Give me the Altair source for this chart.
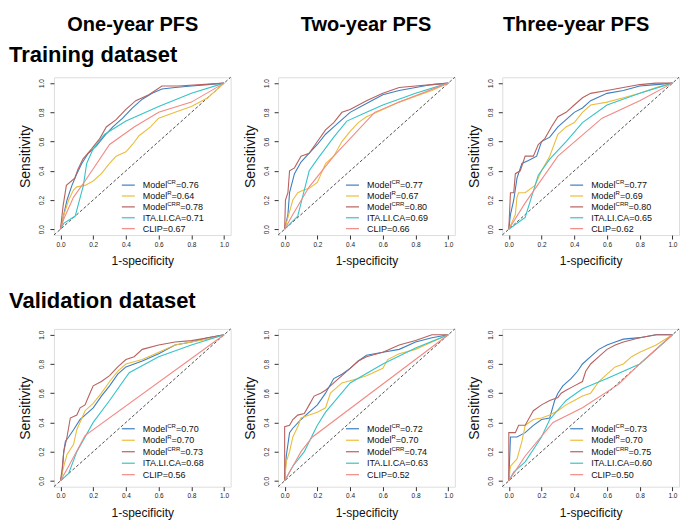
import altair as alt
import pandas as pd

MODELS = ["ModelCR", "ModelR", "ModelCRR", "ITA.LI.CA", "CLIP"]
COLORS = ["#3d7fc0", "#ebbd3e", "#b8625e", "#36c3c9", "#f28a84"]
MAIN = ["Model", "Model", "Model", "ITA.LI.CA", "CLIP"]
SUP = ["CR", "R", "CRR", "", ""]

COL_TITLES = ["One-year PFS", "Two-year PFS", "Three-year PFS"]
ROW_TITLES = ["Training dataset", "Validation dataset"]
TICKS = [0.0, 0.2, 0.4, 0.6, 0.8, 1.0]

AUC_T1 = [0.76, 0.64, 0.78, 0.71, 0.67]
AUC_T2 = [0.77, 0.67, 0.80, 0.69, 0.66]
AUC_T3 = [0.77, 0.69, 0.80, 0.65, 0.62]
AUC_V1 = [0.70, 0.70, 0.73, 0.68, 0.56]
AUC_V2 = [0.72, 0.70, 0.74, 0.63, 0.52]
AUC_V3 = [0.73, 0.70, 0.75, 0.60, 0.50]

# ---- Training, one-year ----
T1_CR = [(0, 0), (0.02, 0.10), (0.04, 0.20), (0.07, 0.30), (0.10, 0.38), (0.13, 0.45), (0.17, 0.52),
         (0.22, 0.57), (0.27, 0.64), (0.32, 0.70), (0.38, 0.76), (0.44, 0.83), (0.50, 0.89), (0.56, 0.93),
         (0.62, 0.96), (0.70, 0.97), (0.80, 0.98), (0.90, 0.99), (1, 1)]
T1_R = [(0, 0), (0.01, 0.06), (0.05, 0.20), (0.08, 0.27), (0.10, 0.29), (0.15, 0.30), (0.20, 0.33),
        (0.25, 0.38), (0.30, 0.45), (0.34, 0.50), (0.40, 0.53), (0.44, 0.58), (0.48, 0.64), (0.55, 0.70),
        (0.60, 0.76), (0.70, 0.80), (0.80, 0.84), (0.90, 0.90), (1, 1)]
T1_CRR = [(0, 0), (0.016, 0.16), (0.036, 0.30), (0.087, 0.35), (0.107, 0.41), (0.137, 0.48), (0.19, 0.55),
          (0.24, 0.62), (0.28, 0.70), (0.34, 0.75), (0.40, 0.82), (0.46, 0.88), (0.54, 0.92), (0.62, 0.98),
          (0.72, 0.98), (0.86, 0.99), (1, 1)]
T1_ITA = [(0, 0), (0.02, 0.04), (0.09, 0.09), (0.14, 0.30), (0.16, 0.45), (0.20, 0.55), (0.27, 0.65),
          (0.40, 0.74), (0.60, 0.84), (0.80, 0.93), (1, 1)]
T1_CLIP = [(0, 0), (0.02, 0.07), (0.08, 0.22), (0.15, 0.33), (0.30, 0.58), (0.45, 0.70), (0.60, 0.80),
           (0.80, 0.87), (1, 1)]

# ---- Training, two-year ----
T2_CR = [(0, 0), (0.02, 0.10), (0.03, 0.25), (0.06, 0.38), (0.10, 0.46), (0.15, 0.52), (0.20, 0.58),
         (0.25, 0.65), (0.30, 0.70), (0.35, 0.75), (0.40, 0.80), (0.50, 0.86), (0.60, 0.92), (0.70, 0.95),
         (0.80, 0.97), (0.90, 0.99), (1, 1)]
T2_R = [(0, 0), (0.03, 0.12), (0.05, 0.20), (0.08, 0.25), (0.12, 0.27), (0.15, 0.28), (0.20, 0.32),
        (0.25, 0.45), (0.30, 0.50), (0.35, 0.60), (0.40, 0.67), (0.45, 0.73), (0.50, 0.77), (0.60, 0.82),
        (0.70, 0.87), (0.80, 0.91), (0.90, 0.95), (1, 1)]
T2_CRR = [(0, 0), (0.005, 0.20), (0.02, 0.25), (0.03, 0.40), (0.06, 0.42), (0.10, 0.50), (0.15, 0.52),
          (0.20, 0.60), (0.25, 0.68), (0.30, 0.73), (0.35, 0.80), (0.40, 0.82), (0.50, 0.88), (0.60, 0.93),
          (0.70, 0.97), (0.80, 0.98), (0.90, 0.99), (1, 1)]
T2_ITA = [(0, 0), (0.08, 0.09), (0.15, 0.40), (0.20, 0.48), (0.30, 0.63), (0.38, 0.74), (0.50, 0.80),
          (0.60, 0.85), (0.80, 0.93), (1, 1)]
T2_CLIP = [(0, 0), (0.05, 0.10), (0.15, 0.29), (0.30, 0.50), (0.55, 0.80), (0.70, 0.87), (1, 1)]

# ---- Training, three-year ----
T3_CR = [(0, 0), (0.01, 0.10), (0.03, 0.20), (0.05, 0.35), (0.08, 0.45), (0.12, 0.47), (0.17, 0.50),
         (0.20, 0.60), (0.25, 0.63), (0.30, 0.70), (0.35, 0.75), (0.40, 0.80), (0.45, 0.83), (0.50, 0.88),
         (0.60, 0.93), (0.70, 0.95), (0.80, 0.98), (0.90, 0.99), (1, 1)]
T3_R = [(0, 0), (0.02, 0.05), (0.04, 0.10), (0.05, 0.22), (0.06, 0.25), (0.10, 0.25), (0.16, 0.30),
        (0.20, 0.40), (0.25, 0.50), (0.30, 0.65), (0.35, 0.70), (0.40, 0.73), (0.45, 0.80), (0.50, 0.85),
        (0.60, 0.87), (0.70, 0.90), (0.80, 0.93), (0.90, 0.97), (1, 1)]
T3_CRR = [(0, 0), (0.01, 0.25), (0.03, 0.25), (0.04, 0.38), (0.07, 0.40), (0.10, 0.50), (0.15, 0.50),
          (0.18, 0.58), (0.22, 0.62), (0.26, 0.70), (0.30, 0.77), (0.35, 0.80), (0.40, 0.85), (0.45, 0.90),
          (0.50, 0.93), (0.60, 0.95), (0.70, 0.97), (0.80, 0.99), (0.90, 1.0), (1, 1)]
T3_ITA = [(0, 0), (0.10, 0.08), (0.18, 0.37), (0.25, 0.48), (0.35, 0.60), (0.45, 0.73), (0.60, 0.85),
          (0.80, 0.93), (1, 1)]
T3_CLIP = [(0, 0), (0.10, 0.18), (0.30, 0.50), (0.57, 0.76), (0.80, 0.88), (1, 1)]

# ---- Validation, one-year ----
V1_CR = [(0, 0), (0.01, 0.05), (0.02, 0.20), (0.03, 0.27), (0.05, 0.30), (0.08, 0.35), (0.12, 0.42),
         (0.15, 0.45), (0.20, 0.50), (0.25, 0.58), (0.30, 0.65), (0.35, 0.73), (0.40, 0.78), (0.50, 0.82),
         (0.60, 0.87), (0.70, 0.93), (0.80, 0.95), (0.90, 0.98), (1, 1)]
V1_R = [(0, 0), (0.02, 0.10), (0.04, 0.18), (0.08, 0.25), (0.10, 0.35), (0.15, 0.48), (0.20, 0.53),
        (0.25, 0.60), (0.30, 0.68), (0.35, 0.75), (0.40, 0.80), (0.50, 0.83), (0.60, 0.88), (0.70, 0.93),
        (0.80, 0.95), (0.90, 0.97), (1, 1)]
V1_CRR = [(0, 0), (0.01, 0.08), (0.02, 0.20), (0.04, 0.30), (0.06, 0.43), (0.10, 0.45), (0.12, 0.50),
          (0.15, 0.52), (0.18, 0.60), (0.20, 0.65), (0.25, 0.68), (0.30, 0.72), (0.35, 0.78), (0.40, 0.83),
          (0.45, 0.85), (0.50, 0.90), (0.60, 0.93), (0.70, 0.95), (0.80, 0.96), (0.90, 0.98), (1, 1)]
V1_ITA = [(0, 0), (0.05, 0.05), (0.10, 0.20), (0.20, 0.40), (0.30, 0.55), (0.42, 0.74), (0.60, 0.85),
          (0.80, 0.93), (1, 1)]
V1_CLIP = [(0, 0), (0.05, 0.10), (0.15, 0.31), (1, 1)]

# ---- Validation, two-year ----
V2_CR = [(0, 0), (0.01, 0.17), (0.03, 0.33), (0.05, 0.36), (0.10, 0.42), (0.15, 0.47), (0.20, 0.52),
         (0.25, 0.60), (0.30, 0.70), (0.35, 0.73), (0.40, 0.77), (0.45, 0.82), (0.50, 0.86), (0.60, 0.88),
         (0.70, 0.90), (0.80, 0.95), (0.90, 0.98), (1, 1)]
V2_R = [(0, 0), (0.01, 0.13), (0.03, 0.20), (0.05, 0.30), (0.08, 0.37), (0.10, 0.43), (0.15, 0.45),
        (0.20, 0.47), (0.25, 0.50), (0.28, 0.60), (0.35, 0.67), (0.45, 0.70), (0.50, 0.72), (0.60, 0.77),
        (0.63, 0.83), (0.70, 0.87), (0.80, 0.90), (0.90, 0.95), (1, 1)]
V2_CRR = [(0, 0), (0.0, 0.37), (0.03, 0.38), (0.05, 0.42), (0.08, 0.45), (0.12, 0.46), (0.15, 0.52),
          (0.18, 0.58), (0.22, 0.60), (0.25, 0.62), (0.30, 0.67), (0.35, 0.72), (0.40, 0.77), (0.45, 0.82),
          (0.50, 0.85), (0.60, 0.88), (0.70, 0.93), (0.80, 0.96), (0.90, 1.0), (1, 1)]
V2_ITA = [(0, 0), (0.05, 0.10), (0.12, 0.20), (0.20, 0.38), (0.25, 0.47), (0.40, 0.67), (0.60, 0.80),
          (0.80, 0.91), (1, 1)]
V2_CLIP = [(0, 0), (0.05, 0.10), (0.10, 0.20), (0.17, 0.30), (1, 1)]

# ---- Validation, three-year ----
V3_CR = [(0, 0), (0.01, 0.30), (0.05, 0.30), (0.10, 0.33), (0.15, 0.38), (0.20, 0.42), (0.25, 0.43),
         (0.28, 0.55), (0.30, 0.60), (0.33, 0.65), (0.38, 0.70), (0.42, 0.75), (0.45, 0.80), (0.50, 0.85),
         (0.55, 0.90), (0.60, 0.93), (0.65, 0.95), (0.70, 0.97), (0.80, 0.98), (0.90, 1.0), (1, 1)]
V3_R = [(0, 0), (0.01, 0.10), (0.05, 0.15), (0.08, 0.27), (0.10, 0.38), (0.15, 0.42), (0.20, 0.43),
        (0.25, 0.45), (0.30, 0.48), (0.35, 0.52), (0.40, 0.55), (0.45, 0.58), (0.50, 0.60), (0.55, 0.68),
        (0.60, 0.73), (0.65, 0.78), (0.70, 0.80), (0.75, 0.85), (0.80, 0.88), (0.90, 0.93), (1, 1)]
V3_CRR = [(0, 0), (0.0, 0.33), (0.04, 0.33), (0.06, 0.38), (0.10, 0.38), (0.13, 0.44), (0.15, 0.48),
          (0.20, 0.52), (0.25, 0.55), (0.30, 0.57), (0.32, 0.60), (0.35, 0.62), (0.40, 0.65), (0.45, 0.68),
          (0.47, 0.75), (0.50, 0.80), (0.55, 0.85), (0.60, 0.90), (0.65, 0.93), (0.70, 0.95), (0.80, 0.98),
          (0.90, 1.0), (1, 1)]
V3_ITA = [(0, 0), (0.03, 0.06), (0.10, 0.13), (0.20, 0.30), (0.25, 0.42), (0.35, 0.55), (0.45, 0.63),
          (0.60, 0.70), (0.80, 0.80), (1, 1)]
V3_CLIP = [(0, 0), (0.10, 0.17), (0.27, 0.40), (0.45, 0.50), (0.67, 0.66), (0.80, 0.80), (1, 1)]

PANELS = [
    [([T1_CR, T1_R, T1_CRR, T1_ITA, T1_CLIP], AUC_T1),
     ([T2_CR, T2_R, T2_CRR, T2_ITA, T2_CLIP], AUC_T2),
     ([T3_CR, T3_R, T3_CRR, T3_ITA, T3_CLIP], AUC_T3)],
    [([V1_CR, V1_R, V1_CRR, V1_ITA, V1_CLIP], AUC_V1),
     ([V2_CR, V2_R, V2_CRR, V2_ITA, V2_CLIP], AUC_V2),
     ([V3_CR, V3_R, V3_CRR, V3_ITA, V3_CLIP], AUC_V3)],
]

# ---- layout / style ----
W, H = 177, 158
D0, D1 = -0.04, 1.04
FONT = "Liberation Sans"
LEG_FS, SUP_FS = 9, 6
LEG_LINE = (68, 81)
LEG_TEXT = 89
LEG_ROW0 = [108, 100]
LEG_STEP = [10.9, 11.5]
HEAD_X = [79, 88, 74]
HEAD_Y = -46
ROW_TITLE_X = -45
ROW_TITLE_Y = [-15, -21]

ARIAL = {'M': 833, 'o': 556, 'd': 556, 'e': 556, 'l': 222, 'C': 722, 'R': 722, '=': 584, '.': 278,
         'I': 278, 'T': 611, 'A': 667, 'L': 556, 'P': 667}


def tw(s, size):
    return sum(ARIAL.get(c, 556) for c in s) * size / 1000.0


def px2x(px):
    return D0 + px / W * (D1 - D0)


def py2y(py):
    return D1 - py / H * (D1 - D0)


SCALE = alt.Scale(domain=[D0, D1], nice=False, zero=False)
AX_X = alt.Axis(values=TICKS, format=".1f", labelFontSize=6.5, tickSize=4, domain=False, grid=False,
                title="1-specificity", titleFontSize=12, titleFontWeight="normal", titlePadding=8,
                labelPadding=2, tickColor="#333", labelColor="#222", labelFlush=False, titleColor="#111")
AX_Y = alt.Axis(values=TICKS, format=".1f", labelFontSize=6.5, tickSize=4, domain=False, grid=False,
                title="Sensitivity", titleFontSize=14, titleFontWeight="normal", titlePadding=6,
                labelPadding=5, labelAngle=270, labelAlign="center", labelBaseline="bottom",
                tickColor="#333", labelColor="#222", labelFlush=False, titleColor="#111")
COLOR = alt.Color("model:N", scale=alt.Scale(domain=MODELS, range=COLORS), legend=None)


def X(f):
    return alt.X(f, scale=SCALE, axis=AX_X)


def Y(f):
    return alt.Y(f, scale=SCALE, axis=AX_Y)


def panel(curves, aucs, row, col):
    recs = []
    for m, pts in zip(MODELS, curves):
        for i, (x, y) in enumerate(pts):
            recs.append({"model": m, "i": i, "x": x, "y": y})
    df = pd.DataFrame(recs)

    diag = alt.Chart(pd.DataFrame({"x": [D0, D1], "y": [D0, D1]})).mark_line(
        color="#222", strokeDash=[3, 2], strokeWidth=0.8).encode(x=X("x:Q"), y=Y("y:Q"))
    lines = alt.Chart(df).mark_line(strokeWidth=1.1, clip=True).encode(
        x=X("x:Q"), y=Y("y:Q"), color=COLOR, order="i:Q")

    leg = []
    for k, m in enumerate(MODELS):
        ly = py2y(LEG_ROW0[row] + LEG_STEP[row] * k)
        rest = "=%.2f" % aucs[k]
        main = MAIN[k] if SUP[k] else MAIN[k] + rest
        rest_t = rest if SUP[k] else ""
        wm = tw(MAIN[k], LEG_FS) if SUP[k] else 0
        ws = tw(SUP[k], SUP_FS)
        leg.append({"model": m, "ly": ly, "lx1": px2x(LEG_LINE[0]), "lx2": px2x(LEG_LINE[1]),
                    "tx": px2x(LEG_TEXT), "sx": px2x(LEG_TEXT + wm), "rx": px2x(LEG_TEXT + wm + ws),
                    "main": main, "sup": SUP[k], "rest": rest_t})
    ldf = pd.DataFrame(leg)
    lbase = alt.Chart(ldf)
    lrule = lbase.mark_rule(strokeWidth=1.2).encode(x=X("lx1:Q"), x2="lx2:Q", y=Y("ly:Q"), color=COLOR)
    lmain = lbase.mark_text(align="left", baseline="middle", fontSize=LEG_FS, font=FONT, color="#111").encode(
        x=X("tx:Q"), y=Y("ly:Q"), text="main:N")
    lsup = lbase.mark_text(align="left", baseline="middle", fontSize=SUP_FS, font=FONT, dy=-3, color="#111").encode(
        x=X("sx:Q"), y=Y("ly:Q"), text="sup:N")
    lrest = lbase.mark_text(align="left", baseline="middle", fontSize=LEG_FS, font=FONT, color="#111").encode(
        x=X("rx:Q"), y=Y("ly:Q"), text="rest:N")

    layers = [diag, lines, lrule, lmain, lsup, lrest]
    if row == 0:
        layers.append(alt.Chart(pd.DataFrame({"t": [COL_TITLES[col]]})).mark_text(
            align="center", baseline="alphabetic", fontSize=20, fontWeight="bold", font=FONT, color="black"
        ).encode(text="t:N", x=alt.value(HEAD_X[col]), y=alt.value(HEAD_Y)))
    if col == 0:
        layers.append(alt.Chart(pd.DataFrame({"t": [ROW_TITLES[row]]})).mark_text(
            align="left", baseline="alphabetic", fontSize=22, fontWeight="bold", font=FONT, color="black"
        ).encode(text="t:N", x=alt.value(ROW_TITLE_X), y=alt.value(ROW_TITLE_Y[row])))
    return alt.layer(*layers).properties(width=W, height=H)


cells = [panel(PANELS[r][c][0], PANELS[r][c][1], r, c) for r in range(2) for c in range(3)]

chart = alt.concat(*cells, columns=3, spacing={"row": 94, "column": 47.5}, bounds="flush").properties(
    padding={"left": 0, "top": 6, "right": 4, "bottom": 4}, background="white"
).configure_view(stroke="#333", strokeWidth=1).configure(font=FONT)

chart.save("out.html", embed_options={"renderer": "svg", "actions": False})
